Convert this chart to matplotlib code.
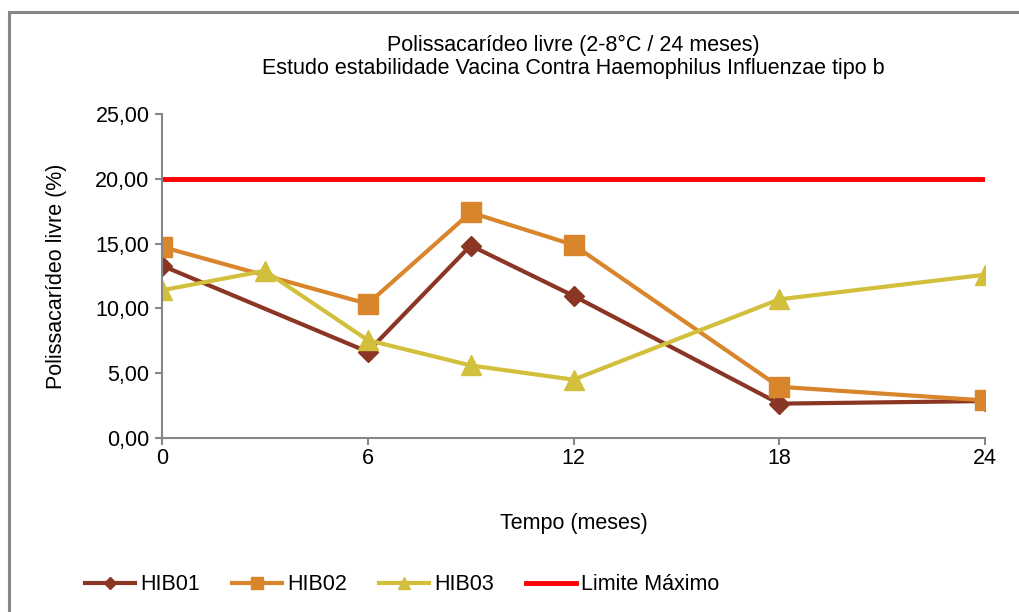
import matplotlib.pyplot as plt
from matplotlib.patches import Rectangle
from matplotlib.ticker import FuncFormatter

plt.rcParams['font.family'] = ['Liberation Sans', 'DejaVu Sans']

# meses de coleta e resultados de polissacarideo livre (%)
meses_01 = [0, 6, 9, 12, 18, 24]
hib01 = [13.3, 6.65, 14.85, 10.97, 2.65, 2.85]
meses_02 = [0, 6, 9, 12, 18, 24]
hib02 = [14.75, 10.35, 17.4, 14.9, 3.95, 2.9]
meses_03 = [0, 3, 6, 9, 12, 18, 24]
hib03 = [11.4, 12.9, 7.55, 5.6, 4.5, 10.7, 12.6]
meses_lim = [0, 3, 6, 9, 12, 18, 24]
limite = [20, 20, 20, 20, 20, 20, 20]

fs = 15.5

fig = plt.figure(figsize=(10.19, 6.12), dpi=100)
# moldura do grafico
fig.patches.append(Rectangle((9 / 1019, -0.1), 1.2, 1 - 12 / 612 + 0.1, transform=fig.transFigure,
                             fill=False, edgecolor='#868686', linewidth=2.2))

ax = fig.add_axes([162 / 1019, 1 - 438 / 612, (985 - 162) / 1019, (438 - 114) / 612])

ax.plot(meses_01, hib01, '-D', color='#8B3524', lw=3, ms=10.5, label='HIB01')
ax.plot(meses_02, hib02, '-s', color='#D9852C', lw=3, ms=14, label='HIB02')
ax.plot(meses_03, hib03, '-^', color='#D2BF3C', lw=3, ms=14, label='HIB03')
ax.plot(meses_lim, limite, '-', color='#FF0000', lw=3.5, label='Limite Máximo')

ax.set_xlim(0, 24)
ax.set_ylim(0, 25)
ax.set_xticks([0, 6, 12, 18, 24])
ax.set_yticks([0, 5, 10, 15, 20, 25])
ax.yaxis.set_major_formatter(FuncFormatter(lambda v, p: f'{v:.2f}'.replace('.', ',')))

for s in ['top', 'right']:
    ax.spines[s].set_visible(False)
for s in ['left', 'bottom']:
    ax.spines[s].set_color('#868686')
    ax.spines[s].set_linewidth(1.5)
ax.tick_params(colors='#868686', labelcolor='black', labelsize=fs, length=5, width=1.5)
ax.tick_params(axis='y', pad=4)
ax.tick_params(axis='x', pad=2)

ax.set_xlabel('Tempo (meses)', fontsize=fs, labelpad=32)
ax.set_ylabel('Polissacarídeo livre (%)', fontsize=fs, labelpad=20)
ax.set_title('Polissacarídeo livre (2-8°C / 24 meses)\nEstudo estabilidade Vacina Contra Haemophilus Influenzae tipo b',
             fontsize=fs, pad=29, linespacing=1.1)

leg = fig.legend(loc='center left', bbox_to_anchor=(66 / 1019, 1 - 585 / 612), ncol=4, frameon=False,
                 fontsize=fs, handlelength=2.3, columnspacing=1.5, handletextpad=0.25, markerscale=0.6)

fig.savefig('out.png', dpi=100)
